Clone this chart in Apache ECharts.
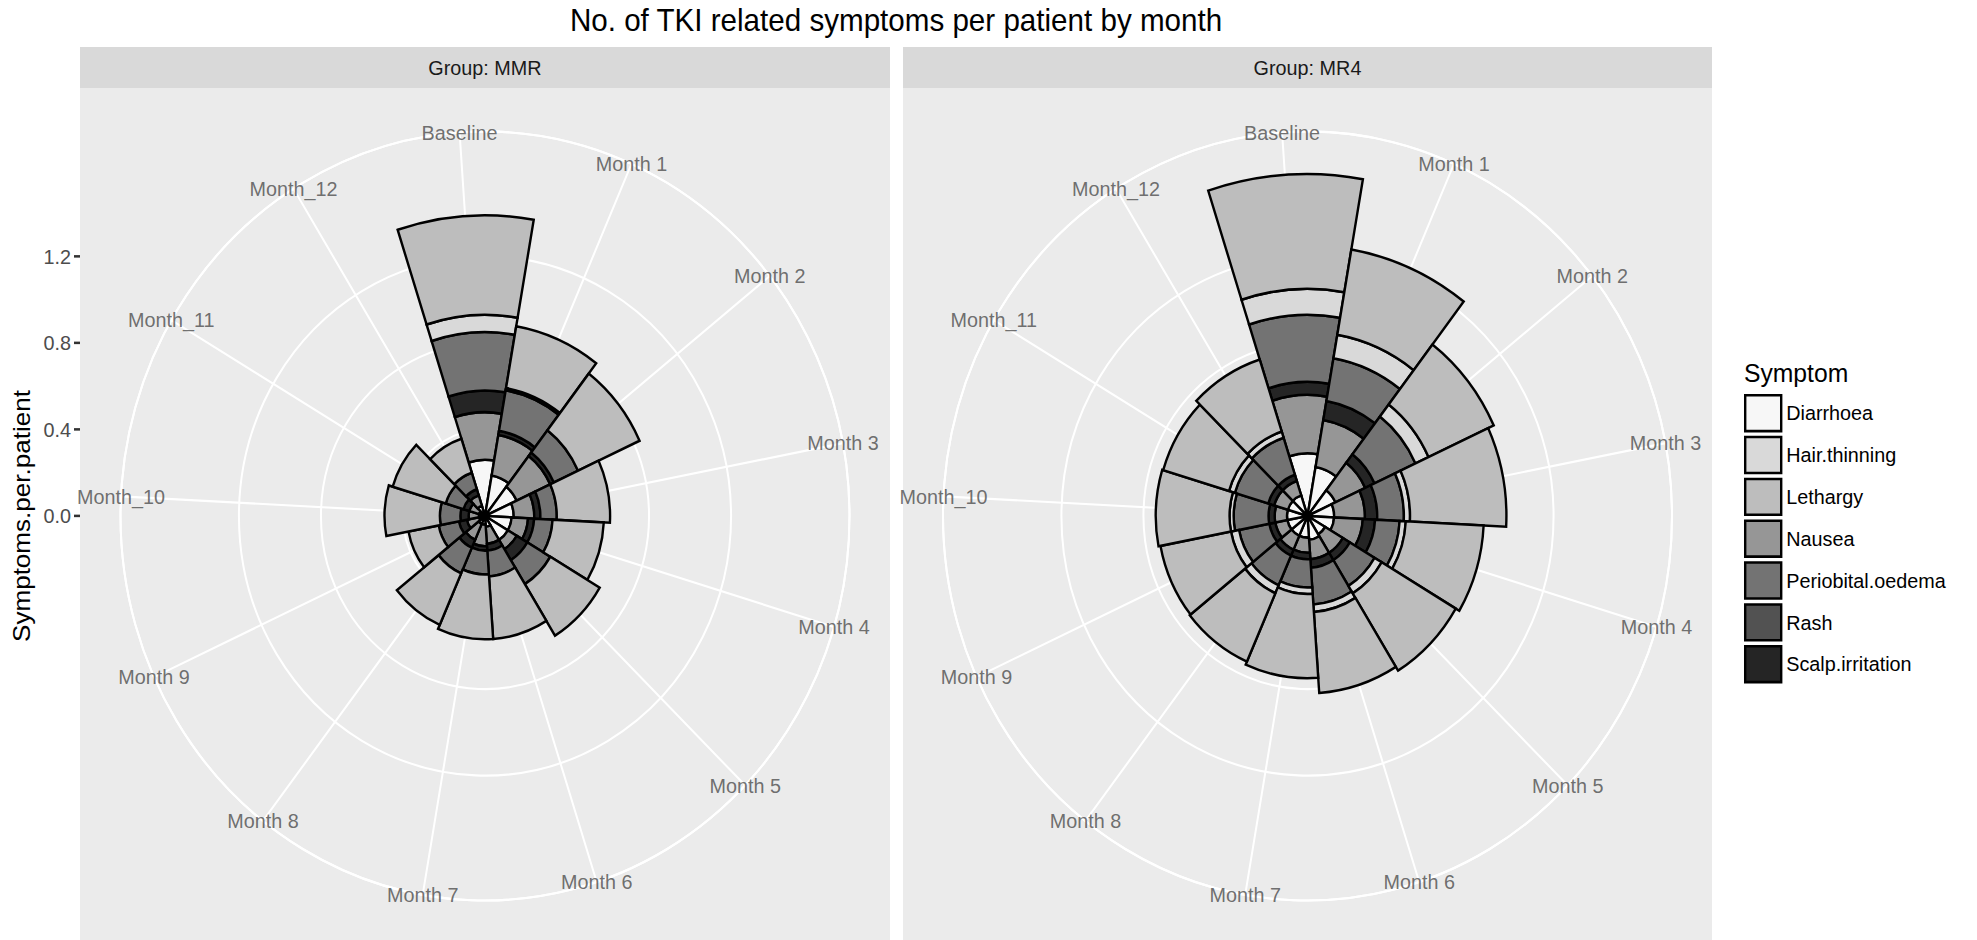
<!DOCTYPE html>
<html>
<head>
<meta charset="utf-8">
<script src="https://cdn.jsdelivr.net/npm/echarts/dist/echarts.min.js"></script>
<style>
html,body{margin:0;padding:0;background:#fff;overflow:hidden}
#wrap{width:1977px;height:940px;overflow:hidden;position:relative;background:#fff}
#chart{width:1977px;height:891px;transform:scaleY(1.055);transform-origin:0 0}
</style>
</head>
<body>
<div id="wrap"><div id="chart"></div></div>
<script>
// ---------------- data ----------------
const months = ['Baseline','Month 1','Month 2','Month 3','Month 4','Month 5','Month 6',
                'Month 7','Month 8','Month 9','Month_10','Month_11','Month_12'];
const groups = ['Group: MMR', 'Group: MR4'];
const symptoms = ['Diarrhoea','Hair.thinning','Lethargy','Nausea','Periobital.oedema','Rash','Scalp.irritation'];
// order in which segments are stacked outward from the centre
const stackOrder = ['Diarrhoea','Nausea','Rash','Scalp.irritation','Periobital.oedema','Hair.thinning','Lethargy'];
const greys = ['#f7f7f7','#d9d9d9','#bdbdbd','#969696','#737373','#525252','#252525'];
const rBreaks = [0, 0.4, 0.8, 1.2];

// Group MMR, symptoms per patient (Baseline, Month 1 ... Month_12)
const mmrDiarrhoea   = [0.26,0.19,0.17,0.14,0.13,0.13,0.05,0.04,0.04,0.03,0.03,0.03,0.05];
const mmrNausea      = [0.22,0.19,0.18,0.10,0.08,0.05,0.08,0.10,0.08,0.06,0.05,0.05,0.05];
const mmrRash        = [0,0,0,0,0,0,0,0,0,0,0,0,0];
const mmrScalp       = [0.10,0.02,0.02,0.03,0.03,0.06,0.03,0.02,0.04,0.04,0.04,0.03,0.03];
const mmrPeriobital  = [0.27,0.19,0.13,0.08,0.09,0.13,0.12,0.11,0.13,0.10,0.10,0.09,0.08];
const mmrHair        = [0.08,0.01,0,0,0,0,0,0,0,0,0,0,0];
const mmrLethargy    = [0.46,0.29,0.33,0.26,0.25,0.28,0.29,0.30,0.26,0.15,0.27,0.27,0.165];

// Group MR4
const mr4Diarrhoea   = [0.29,0.23,0.15,0.13,0.13,0.10,0.11,0.10,0.10,0.10,0.10,0.10,0.10];
const mr4Nausea      = [0.27,0.22,0.16,0.15,0.14,0.10,0.09,0.07,0.07,0.06,0.06,0.07,0.07];
const mr4Rash        = [0,0,0,0,0,0,0,0,0,0,0,0,0];
const mr4Scalp       = [0.06,0.09,0.05,0.06,0.06,0.04,0.04,0.03,0.03,0.03,0.03,0.03,0.03];
const mr4Periobital  = [0.31,0.20,0.22,0.13,0.12,0.14,0.17,0.13,0.15,0.15,0.17,0.17,0.18];
const mr4Hair        = [0.12,0.11,0.07,0.03,0.03,0.04,0.035,0.03,0.04,0.04,0.02,0.03,0.03];
const mr4Lethargy    = [0.53,0.40,0.35,0.47,0.38,0.42,0.375,0.39,0.345,0.35,0.36,0.335,0.35];

// ---------------- assembly ----------------
const groupData = [
  {'Diarrhoea':mmrDiarrhoea,'Nausea':mmrNausea,'Rash':mmrRash,'Scalp.irritation':mmrScalp,
   'Periobital.oedema':mmrPeriobital,'Hair.thinning':mmrHair,'Lethargy':mmrLethargy},
  {'Diarrhoea':mr4Diarrhoea,'Nausea':mr4Nausea,'Rash':mr4Rash,'Scalp.irritation':mr4Scalp,
   'Periobital.oedema':mr4Periobital,'Hair.thinning':mr4Hair,'Lethargy':mr4Lethargy}
];
const colorOf = {};
symptoms.forEach((s, i) => colorOf[s] = greys[i]);

let maxTotal = 0;
groupData.forEach(g => months.forEach((m, i) => {
  let t = 0; stackOrder.forEach(s => t += g[s][i]); maxTotal = Math.max(maxTotal, t);
}));

// layout (pre vertical stretch)
const SY = 1.055;
const H = 940 / SY;
const panels = [{x0: 80, x1: 890}, {x0: 903, x1: 1712}];
const stripTop = 47 / SY, stripBot = 88 / SY;
const cy = 516 / SY;
const R = 364.5;
const rMax = maxTotal * 0.45 / 0.4;       // outer circle value
const ppu = R / rMax;                      // pixels per unit
const lastBreak = rBreaks[rBreaks.length - 1];
const step = 360 / months.length;
const startA = 94 + step / 2;              // first band edge (Baseline centred at ~94 deg)
const FONT = '"Liberation Sans", Arial, Helvetica, sans-serif';

// radius split line colours: white at breaks within data range, hidden above
const ringColors = [];
for (let v = 0; v < rMax - 1e-9; v = +(v + 0.4).toFixed(6)) ringColors.push(v <= maxTotal ? '#ffffff' : 'rgba(0,0,0,0)');
ringColors.push('#ffffff');

const polar = [], angleAxis = [], radiusAxis = [], series = [];
const titles = [{
  text: 'No. of TKI related symptoms per patient by month',
  left: 896, top: 19, textAlign: 'center', textVerticalAlign: 'middle', padding: 0,
  textStyle: {fontFamily: FONT, fontSize: 29.6, fontWeight: 'normal', color: '#000'}
}];
const graphics = [];

panels.forEach((p, gi) => {
  const cx = (p.x0 + p.x1) / 2;
  graphics.push({type: 'rect', z: -10, silent: true, shape: {x: p.x0, y: stripBot, width: p.x1 - p.x0, height: H - stripBot}, style: {fill: '#ebebeb'}});
  graphics.push({type: 'rect', z: -10, silent: true, shape: {x: p.x0, y: stripTop, width: p.x1 - p.x0, height: stripBot - stripTop}, style: {fill: '#d9d9d9'}});
  titles.push({
    text: groups[gi], left: cx, top: (stripTop + stripBot) / 2, textAlign: 'center', textVerticalAlign: 'middle', padding: 0,
    textStyle: {fontFamily: FONT, fontSize: 19.8, fontWeight: 'normal', color: '#1a1a1a'}
  });
  polar.push({center: [cx, cy], radius: R});
  polar.push({center: [cx, cy], radius: R});
  const gridIdx = gi * 2, barIdx = gi * 2 + 1;
  angleAxis.push({
    polarIndex: gridIdx, type: 'value', min: 0, max: months.length, interval: 1,
    startAngle: startA - step / 2, clockwise: true,
    axisLine: {show: true, lineStyle: {color: '#ffffff', width: 2}},
    axisTick: {show: false}, axisLabel: {show: false},
    splitLine: {show: true, lineStyle: {color: '#ffffff', width: 2}}
  });
  radiusAxis.push({
    polarIndex: gridIdx, type: 'value', min: 0, max: rMax, interval: 0.4,
    axisLine: {show: false}, axisTick: {show: false}, axisLabel: {show: false},
    splitLine: {show: true, lineStyle: {color: ringColors, width: 2}}
  });
  angleAxis.push({
    polarIndex: barIdx, type: 'category', data: months, startAngle: startA, clockwise: true,
    axisLine: {show: false}, axisTick: {show: false}, axisLabel: {show: false}, splitLine: {show: false}
  });
  radiusAxis.push({
    polarIndex: barIdx, type: 'value', min: 0, max: rMax,
    axisLine: {show: false}, axisTick: {show: false}, axisLabel: {show: false}, splitLine: {show: false}
  });
  stackOrder.forEach(s => {
    series.push({
      type: 'bar', coordinateSystem: 'polar', polarIndex: barIdx, name: s, stack: 'g' + gi,
      barCategoryGap: '0%', silent: true,
      data: groupData[gi][s].map(v => v > 0 ? v : '-'),
      itemStyle: {color: colorOf[s], borderColor: '#000000', borderWidth: 2.4}
    });
  });
  series.push({
    type: 'scatter', coordinateSystem: 'polar', polarIndex: barIdx, name: 'labels' + gi,
    silent: true, symbolSize: 1, itemStyle: {color: 'rgba(0,0,0,0)'}, z: 5,
    data: months.map((m, i) => [rMax, i]),
    label: {show: true, position: 'inside', formatter: q => months[q.dataIndex],
            fontFamily: FONT, fontSize: 19.8, color: '#4d4d4d'}
  });
});

titles.push({
  text: 'Symptom', left: 1744, top: 373 / SY, textVerticalAlign: 'middle', padding: 0,
  textStyle: {fontFamily: FONT, fontSize: 24.7, fontWeight: 'normal', color: '#000'}
});

graphics.push({
  type: 'text', x: 21, y: cy, rotation: Math.PI / 2, silent: true,
  style: {text: 'Symptoms.per.patient', font: '24.7px ' + FONT, fill: '#000', align: 'center', verticalAlign: 'middle'}
});

const option = {
  animation: false,
  backgroundColor: 'rgba(0,0,0,0)',
  title: titles,
  graphic: {elements: graphics},
  polar: polar,
  angleAxis: angleAxis,
  radiusAxis: radiusAxis,
  grid: [{left: panels[0].x0, width: 10, top: cy - lastBreak * ppu, height: lastBreak * ppu}],
  xAxis: [{gridIndex: 0, type: 'value', show: false}],
  yAxis: [{
    gridIndex: 0, type: 'value', min: 0, max: lastBreak, interval: 0.4,
    axisLine: {show: false},
    axisTick: {show: true, length: 6, lineStyle: {color: '#333333', width: 2.4}},
    axisLabel: {color: '#4d4d4d', fontSize: 19.8, fontFamily: FONT, margin: 9, formatter: v => v.toFixed(1)},
    splitLine: {show: false}
  }],
  legend: {
    data: symptoms, orient: 'vertical', left: 1744, top: 394 / SY, padding: 0,
    itemWidth: 36, itemHeight: 34, itemGap: 39.3 / SY - 34, icon: 'rect', selectedMode: false,
    itemStyle: {borderColor: '#000000', borderWidth: 2.4},
    textStyle: {fontFamily: FONT, fontSize: 19.8, color: '#000'}
  },
  series: series
};

const chart = echarts.init(document.getElementById('chart'), null, {renderer: 'svg', width: 1977, height: H});
chart.setOption(option);
</script>
</body>
</html>
